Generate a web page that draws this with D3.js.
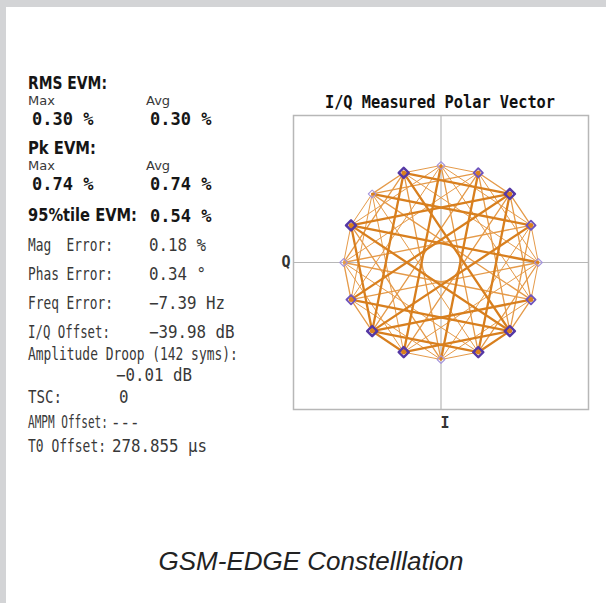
<!DOCTYPE html>
<html>
<head>
<meta charset="utf-8">
<script src="https://cdn.jsdelivr.net/npm/d3@7.9.0/dist/d3.min.js"></script>
<style>
  html, body { margin: 0; padding: 0; background: #d3d4d6; }
  svg { display: block; }
  text { white-space: pre; }
</style>
</head>
<body>
<svg id="chart" width="606" height="603"></svg>
<script>
// constellation points (I, Q), 0 deg then counter-clockwise
const pointI = [0.99, 0.915, 0.70, 0.379, 0.00, -0.379, -0.70, -0.915, -0.99, -0.915, -0.70, -0.379, 0.00, 0.379, 0.70, 0.915];
const pointQ = [0.00, 0.379, 0.70, 0.915, 0.99, 0.915, 0.70, 0.379, 0.00, -0.379, -0.70, -0.915, -0.99, -0.915, -0.70, -0.379];
// how heavy each marker looks: 0 light, 1 medium, 2 bold
const pointWeight = [0, 1, 2, 1, 0, 2, 0, 2, 0, 1, 2, 2, 0, 2, 2, 1];
// symbol sequence (index into the points above)
const symbols = [5,2,7,14,11,14,9,2,5,10,13,10,15,6,1,6,3,10,13,0,7,2,5,12,9,14,11,4,1,14,7,10,15,2,13,8,5,2,9,14,
  13,10,11,14,3,6,1,2,7,12,13,2,5,10,7,4,11,14,9,10,13,14,15,10,5,0,15,14,5,6,7,2,3,8,7,14,11,10,9,8,11,12,3,2,1,0,
  13,4,5,8,9,4,3,14,1,10,11,6,5,2,15,12,7,10,13,14,11,2,9,0,3,12,1,8,15,4,11,0,7,14,5,10,1,6,13,2,7,0,9,6,15,8,
  1,10,5,14,7,2,11,4,13,10,3,12,5,2];

// readouts
const evmHeads = ["RMS EVM:", "Pk EVM:"];
const evmMax = ["0.30 %", "0.74 %"];
const evmAvg = ["0.30 %", "0.74 %"];
const evm95 = "0.54 %";
const errLabels = ["Mag  Error:", "Phas Error:", "Freq Error:", "I/Q Offset:"];
const errValues = ["0.18 %", "0.34 °", "−7.39 Hz", "−39.98 dB"];

const svg = d3.select('#chart');
svg.append('rect').attr('width', 606).attr('height', 603).attr('fill', '#d3d4d6');
svg.append('rect').attr('x', 6).attr('y', 7).attr('width', 600).attr('height', 596).attr('fill', '#ffffff');

const MONO = "'DejaVu Sans Mono', monospace";
const SANS = "'DejaVu Sans', sans-serif";

// w (optional) squeezes the text horizontally to the width seen in the reference
function txt(g, x, y, s, o, w) {
  const t = g.append('text')
    .attr('x', x).attr('y', y)
    .attr('font-family', o.font)
    .attr('font-size', o.size)
    .attr('font-weight', o.weight || 'normal')
    .attr('fill', o.fill || '#222')
    .attr('text-anchor', o.anchor || 'start')
    .text(s);
  let sx = o.sx || 1;
  if (w) sx = w / t.node().getComputedTextLength();
  if (sx !== 1) t.attr('transform', `translate(${x},${y}) scale(${sx},1) translate(${-x},${-y})`);
  return t;
}

// ---------- left readout panel ----------
const left = svg.append('g');
const head = { font: SANS, size: 17, weight: 'bold', fill: '#161616' };
const small = { font: SANS, size: 13, fill: '#383838' };
const big = { font: MONO, size: 17, weight: 'bold', fill: '#161616' };
const lab = { font: MONO, size: 17, fill: '#383838' };
const val = { font: MONO, size: 17, sx: 0.93, fill: '#383838' };

evmHeads.forEach((h, i) => {
  const y0 = 89 + i * 65.5;
  txt(left, 28, y0, h, head, [79, 68][i]);
  txt(left, 28, y0 + 15.5, 'Max', small);
  txt(left, 146, y0 + 15.5, 'Avg', small);
  txt(left, 32, y0 + 35.5, evmMax[i], big);
  txt(left, 150, y0 + 35.5, evmAvg[i], big);
});
txt(left, 28, 221.5, '95%tile EVM:', head, 109);
txt(left, 150, 221.5, evm95, big);

errLabels.forEach((l, i) => {
  const y0 = 251 + i * 29;
  txt(left, 28, y0, l, lab, [85, 85, 85, 82][i]);
  txt(left, 149, y0, errValues[i], val);
});
txt(left, 28, 360, 'Amplitude Droop (142 syms):', lab, 210);
txt(left, 116, 381, '−0.01 dB', val);
txt(left, 28, 403, 'TSC:', lab, 34);
txt(left, 119, 403, '0', val);
txt(left, 28, 428, 'AMPM Offset:', lab, 80);
txt(left, 111, 428, '---', val);
txt(left, 28, 452, 'T0 Offset:', lab, 78);
txt(left, 112, 452, '278.855 µs', val);

// ---------- polar vector plot ----------
const x = d3.scaleLinear().domain([-1.5, 1.5]).range([293.5, 588.5]);
const y = d3.scaleLinear().domain([-1.5, 1.5]).range([409.5, 115.5]);
const plot = svg.append('g');

txt(plot, 440, 108, 'I/Q Measured Polar Vector', { font: MONO, size: 17, weight: 'bold', sx: 0.9, fill: '#111', anchor: 'middle' });
txt(plot, 286, 267, 'Q', { font: MONO, size: 15, weight: 'bold', fill: '#333', anchor: 'middle' });
txt(plot, 445, 428, 'I', { font: MONO, size: 15, weight: 'bold', fill: '#333', anchor: 'middle' });

plot.append('rect')
  .attr('x', x(-1.5)).attr('y', y(1.5))
  .attr('width', x(1.5) - x(-1.5)).attr('height', y(-1.5) - y(1.5))
  .attr('fill', 'none').attr('stroke', '#b7b7b7').attr('stroke-width', 1.5);
plot.append('line')
  .attr('x1', x(0)).attr('x2', x(0)).attr('y1', y(1.5)).attr('y2', y(-1.5))
  .attr('stroke', '#b7b7b7').attr('stroke-width', 1.2);
plot.append('line')
  .attr('x1', x(-1.5)).attr('x2', x(1.5)).attr('y1', y(0)).attr('y2', y(0))
  .attr('stroke', '#b7b7b7').attr('stroke-width', 1.2);

// transitions: repeated ones are drawn heavier
const segCount = d3.rollup(d3.pairs(symbols), v => v.length,
  ([a, b]) => a < b ? a + '-' + b : b + '-' + a);
const segs = Array.from(segCount, ([k, n]) => {
  const [a, b] = k.split('-').map(Number);
  return { a, b, n };
}).sort((p, q) => p.n - q.n);

plot.append('g').selectAll('line')
  .data(segs)
  .join('line')
  .attr('x1', d => x(pointI[d.a])).attr('y1', d => y(pointQ[d.a]))
  .attr('x2', d => x(pointI[d.b])).attr('y2', d => y(pointQ[d.b]))
  .attr('stroke', d => d.n > 2 ? '#d87f1e' : '#e59a49')
  .attr('stroke-width', d => d.n === 1 ? 1.0 : d.n === 2 ? 1.3 : 2.3)
  .attr('stroke-linecap', 'round');

const points = pointI.map((v, i) => ({ i: v, q: pointQ[i], w: pointWeight[i] }));
const sym = d3.symbol().type(d3.symbolSquare);

plot.append('g').selectAll('path')
  .data(points)
  .join('path')
  .attr('transform', d => `translate(${x(d.i)},${y(d.q)}) rotate(45)`)
  .attr('d', d => sym.size([30, 42, 50][d.w])())
  .attr('fill', 'none')
  .attr('stroke', d => ['#a494dc', '#6e54bd', '#5538a5'][d.w])
  .attr('stroke-width', d => [1.1, 1.9, 2.5][d.w])
  .attr('stroke-linejoin', 'round');

plot.append('g').selectAll('circle')
  .data(points.filter(d => d.w > 0))
  .join('circle')
  .attr('cx', d => x(d.i)).attr('cy', d => y(d.q))
  .attr('r', 2.4)
  .attr('fill', '#d9801f');

// ---------- caption ----------
svg.append('text')
  .attr('x', 311).attr('y', 570)
  .attr('text-anchor', 'middle')
  .attr('font-family', "'Liberation Sans', Arial, sans-serif")
  .attr('font-style', 'italic')
  .attr('font-size', 26)
  .attr('fill', '#222')
  .text('GSM-EDGE Constelllation');
</script>
</body>
</html>
